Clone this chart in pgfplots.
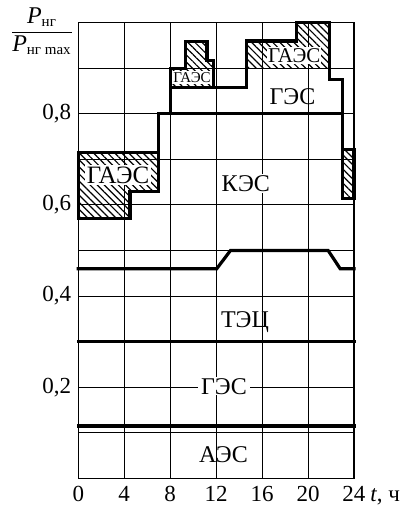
\documentclass[border=0pt]{standalone}
\usepackage{pgfplots}
\pgfplotsset{compat=1.18}
\usepackage{fontspec}
\setmainfont{Liberation Serif}
\usetikzlibrary{patterns.meta,calc}

\begin{document}
\begin{tikzpicture}
\begin{axis}[
  scale only axis,
  width=137.85pt, height=227.8pt,
  xmin=0, xmax=24, ymin=0, ymax=1,
  xtick={0,4,...,24}, xticklabels={0,4,8,12,16,20,24},
  ytick={0.2,0.4,0.6,0.8}, yticklabels={{0,2},{0,4},{0,6},{0,8}},
  minor ytick={0.1,0.3,0.5,0.7,0.9},
  grid=both,
  major grid style={black, line width=0.5pt},
  minor grid style={black, line width=0.5pt},
  major tick length=0pt, minor tick length=0pt,
  axis line style={black, line width=0.7pt},
  tick label style={font=\fontsize{11.5}{13}\selectfont, black},
  xticklabel style={yshift=-0.6pt},
  clip=false,
  hatch/.style={draw=none, pattern={Lines[angle=-45,distance=2.5pt,line width=0.6pt]}},
  thk/.style={black, line width=1.6pt, line cap=rect, mark=none},
]
% hatched areas (ГАЭС)
\addplot[hatch] coordinates {(0,0.57)(4.5,0.57)(4.5,0.63)(7,0.63)(7,0.715)(0,0.715)} -- cycle;
\addplot[hatch] coordinates {(23,0.615)(24,0.615)(24,0.722)(23,0.722)} -- cycle;
\addplot[hatch] coordinates {(8,0.858)(11.8,0.858)(11.8,0.917)(11.2,0.917)(11.2,0.958)(9.3,0.958)(9.3,0.9)(8,0.9)} -- cycle;
\addplot[hatch] coordinates {(14.65,0.9)(21.9,0.9)(21.9,1.0)(19,1.0)(19,0.96)(14.65,0.96)} -- cycle;

% thick lines
\addplot[thk] coordinates {(0,0.115)(24,0.115)};
\addplot[thk] coordinates {(0,0.3)(24,0.3)};
\addplot[thk] coordinates {(0,0.46)(12.05,0.46)(13.25,0.5)(21.75,0.5)(22.8,0.46)(24,0.46)};
\addplot[thk] coordinates {(0,0.57)(4.5,0.57)(4.5,0.63)(7,0.63)(7,0.8)(23,0.8)(23,0.615)(24,0.615)};
\addplot[thk] coordinates {(0,0.57)(0,0.715)(7,0.715)};
\addplot[thk] coordinates {(8,0.8)(8,0.9)(9.3,0.9)(9.3,0.958)(11.2,0.958)(11.2,0.917)(11.8,0.917)(11.8,0.858)(14.65,0.858)(14.65,0.96)(19,0.96)(19,1)(21.9,1)(21.9,0.875)(23,0.875)(23,0.615)};
\addplot[thk] coordinates {(8,0.858)(11.8,0.858)};
\addplot[thk] coordinates {(23,0.722)(24,0.722)(24,0.615)};

% labels
\node[anchor=base, font=\fontsize{12.5}{14}\selectfont, fill=white, inner sep=0.8pt] at (axis cs:3.46,0.647) {ГАЭС};
\node[anchor=base, font=\fontsize{7.5}{8}\selectfont, fill=white, inner sep=0.5pt] at (axis cs:9.9,0.869) {ГАЭС};
\node[anchor=base, font=\fontsize{10.5}{12}\selectfont, fill=white, inner sep=0.5pt] at (axis cs:18.8,0.913) {ГАЭС};
\node[anchor=base, font=\fontsize{12}{14}\selectfont] at (axis cs:18.64,0.821) {ГЭС};
\node[anchor=base, font=\fontsize{12}{14}\selectfont, fill=white, inner sep=0.5pt] at (axis cs:14.58,0.630) {КЭС};
\node[anchor=base, font=\fontsize{12}{14}\selectfont] at (axis cs:14.51,0.332) {ТЭЦ};
\node[anchor=base, font=\fontsize{12}{14}\selectfont, fill=white, inner xsep=1.5pt, inner ysep=0.5pt] at (axis cs:12.68,0.185) {ГЭС};
\node[anchor=base, font=\fontsize{12}{14}\selectfont] at (axis cs:12.64,0.035) {АЭС};

\node[anchor=base west, inner sep=0pt, font=\fontsize{11.5}{13}\selectfont, xshift=8.0pt, yshift=-11.65pt] at (axis cs:24,0) {\textit{t}, ч};

\node[xshift=-18.15pt, yshift=-4.3pt] at (rel axis cs:0,1) {$\displaystyle\frac{\mbox{\fontsize{12}{13}\selectfont\itshape P}_{\mbox{\fontsize{7.5}{8}\selectfont нг}}}{\mbox{\fontsize{12}{13}\selectfont\itshape P}_{\mbox{\fontsize{7.5}{8}\selectfont нг max}}}$};

\coordinate (axbl) at (rel axis cs:0,0);
\coordinate (axtr) at (rel axis cs:1,1);
\end{axis}
\pgfresetboundingbox
\path ($(axbl)+(-39.15pt,-13.35pt)$) rectangle ($(axtr)+(24pt,11.35pt)$);
\end{tikzpicture}
\end{document}
